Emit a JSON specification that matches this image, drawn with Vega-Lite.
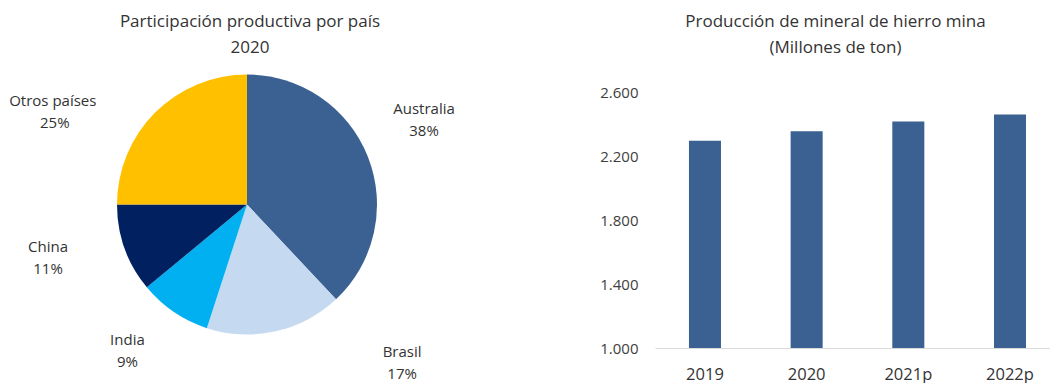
{
  "$schema": "https://vega.github.io/schema/vega-lite/v6.json",
  "padding": {"left": 0, "top": 13, "right": 0, "bottom": 0},
  "background": "white",
  "bounds": "flush",
  "spacing": 161,
  "config": {
    "view": {"stroke": null},
    "font": "Open Sans",
    "title": {"fontSize": 17, "lineHeight": 26, "offset": 4, "color": "#333333", "fontWeight": "normal", "anchor": "middle", "frame": "group"}
  },
  "datasets": {
    "participacion": [
      {"pais": "Australia", "participacion": 0.38, "orden": 1},
      {"pais": "Brasil", "participacion": 0.17, "orden": 2},
      {"pais": "India", "participacion": 0.09, "orden": 3},
      {"pais": "China", "participacion": 0.11, "orden": 4},
      {"pais": "Otros países", "participacion": 0.25, "orden": 5}
    ],
    "produccion": [
      {"anio": "2019", "produccion": 2300},
      {"anio": "2020", "produccion": 2360},
      {"anio": "2021p", "produccion": 2420},
      {"anio": "2022p", "produccion": 2465}
    ]
  },
  "hconcat": [
    {
      "width": 494,
      "height": 287,
      "title": {"text": ["Participación productiva por país", "2020"], "dx": 3},
      "data": {"name": "participacion"},
      "encoding": {
        "theta": {"field": "participacion", "type": "quantitative", "stack": true},
        "order": {"field": "orden", "type": "quantitative"}
      },
      "layer": [
        {
          "mark": {"type": "arc", "outerRadius": 130},
          "encoding": {
            "color": {
              "field": "pais",
              "type": "nominal",
              "scale": {
                "domain": ["Australia", "Brasil", "India", "China", "Otros países"],
                "range": ["#3B6193", "#C5D9F1", "#00B0F0", "#002060", "#FFC000"]
              },
              "legend": null
            }
          }
        },
        {
          "mark": {
            "type": "text",
            "radius": 170,
            "fontSize": 15,
            "color": "#333333",
            "align": "center",
            "baseline": "middle",
            "dx": {"expr": "datum.pais === 'Australia' ? 19 : datum.pais === 'Brasil' ? 118 : datum.pais === 'India' ? -24 : datum.pais === 'China' ? -39 : -74"},
            "dy": {"expr": "datum.pais === 'Australia' ? -33 : datum.pais === 'Brasil' ? -18 : datum.pais === 'India' ? -5 : datum.pais === 'China' ? -15 : 17"}
          },
          "encoding": {"text": {"field": "pais", "type": "nominal"}}
        },
        {
          "mark": {
            "type": "text",
            "radius": 170,
            "fontSize": 15,
            "color": "#333333",
            "align": "center",
            "baseline": "middle",
            "dx": {"expr": "datum.pais === 'Australia' ? 19 : datum.pais === 'Brasil' ? 118 : datum.pais === 'India' ? -24 : datum.pais === 'China' ? -39 : -72"},
            "dy": {"expr": "datum.pais === 'Australia' ? -11 : datum.pais === 'Brasil' ? 4 : datum.pais === 'India' ? 17 : datum.pais === 'China' ? 7 : 39"}
          },
          "encoding": {"text": {"field": "participacion", "type": "quantitative", "format": ".0%"}}
        }
      ]
    },
    {
      "width": 395,
      "height": 287,
      "title": {"text": ["Producción de mineral  de hierro mina", "(Millones de ton)"], "dx": -17},
      "data": {"name": "produccion"},
      "mark": {"type": "bar", "color": "#3B6193"},
      "encoding": {
        "x": {
          "field": "anio",
          "type": "ordinal",
          "sort": null,
          "scale": {"paddingInner": 0.685, "paddingOuter": 0.285, "align": 0.586},
          "axis": {"title": null, "labelAngle": 0, "ticks": false, "domainColor": "#D9D9D9", "labelPadding": 18, "labelFontSize": 16.5, "labelColor": "#333333"}
        },
        "y": {
          "field": "produccion",
          "type": "quantitative",
          "scale": {"domain": [1000, 2800], "nice": false, "zero": false},
          "axis": {
            "title": null,
            "values": [1000, 1400, 1800, 2200, 2600],
            "labelExpr": "replace(format(datum.value, ',.0f'), ',', '.')",
            "grid": false,
            "domain": false,
            "ticks": false,
            "labelFlush": false,
            "labelPadding": 17,
            "labelFontSize": 15,
            "labelColor": "#404040"
          }
        },
        "y2": {"datum": 1000}
      }
    }
  ]
}
